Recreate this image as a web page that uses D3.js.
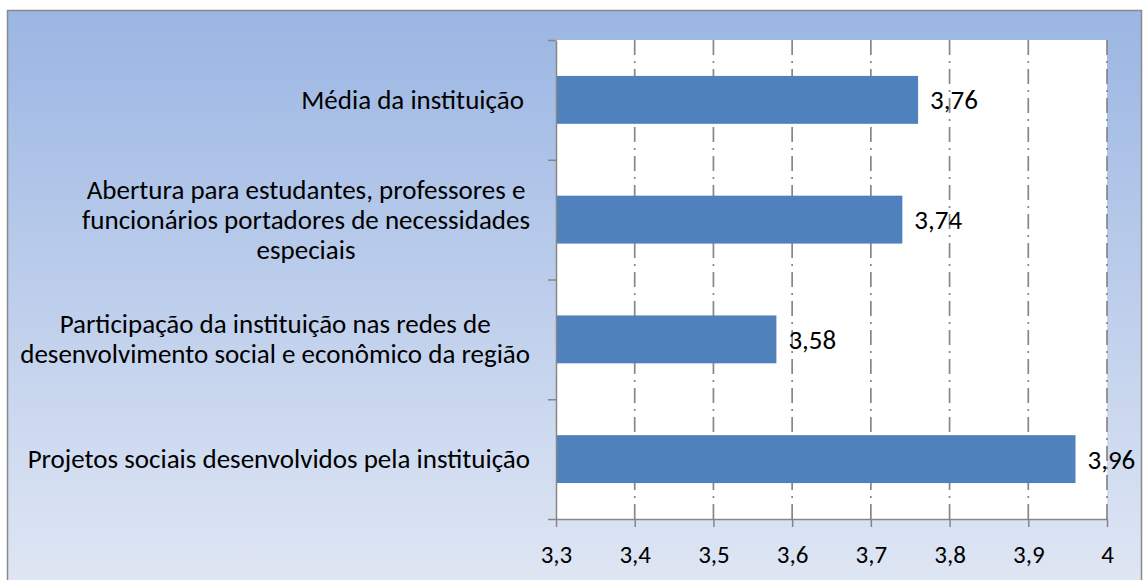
<!DOCTYPE html>
<html>
<head>
<meta charset="utf-8">
<script src="https://cdn.jsdelivr.net/npm/d3@7"></script>
<style>
    body { margin: 0; background: #fff; }
    text { font-family: Carlito, Calibri, Lato, sans-serif; fill: #000; white-space: pre; }
    .axis path, .axis line { stroke: #868686; stroke-width: 1.5; }
    .grid line { stroke: #878787; stroke-width: 1.7; stroke-dasharray: 15,6,2,6; }
</style>
</head>
<body>
<div id="vis"></div>
<script>
// Data
var categories = [
    ["Média da instituição "],
    ["Abertura para estudantes, professores e", "funcionários portadores de necessidades", "especiais"],
    ["Participação da instituição nas redes de", "desenvolvimento social e econômico da região"],
    ["Projetos sociais desenvolvidos pela instituição"]
];
var values = [3.76, 3.74, 3.58, 3.96];
var xTicks = [3.3, 3.4, 3.5, 3.6, 3.7, 3.8, 3.9, 4.0];

(function() {
    var width = 1143,
        height = 580,
        margin = { top: 40, right: 36, bottom: 61, left: 556 };

    var fmt = function(v) { return String(+v.toFixed(2)).replace(".", ","); };

    var svg = d3.select("#vis").append("svg")
        .attr("width", width)
        .attr("height", height);

    // Background gradient of the chart area
    var grad = svg.append("defs").append("linearGradient")
        .attr("id", "bg").attr("x1", 0).attr("y1", 0).attr("x2", 0).attr("y2", 1);
    grad.append("stop").attr("offset", "0%").attr("stop-color", "#9bb6e3");
    grad.append("stop").attr("offset", "100%").attr("stop-color", "#e0e7f4");

    svg.append("rect")
        .attr("x", 7.5).attr("y", 10.5)
        .attr("width", 1134).attr("height", 580)
        .attr("fill", "url(#bg)")
        .attr("stroke", "#898989")
        .attr("stroke-width", 1.5);

    var x = d3.scaleLinear()
        .domain([3.3, 4])
        .range([margin.left, width - margin.right]);

    var y = d3.scaleBand()
        .domain(d3.range(categories.length))
        .range([margin.top, height - margin.bottom])
        .paddingInner(0.6)
        .paddingOuter(0.3);

    // White plot area
    svg.append("rect")
        .attr("x", x(3.3)).attr("y", margin.top)
        .attr("width", x(4) - x(3.3))
        .attr("height", height - margin.bottom - margin.top)
        .attr("fill", "#fff");

    // Vertical dash-dot gridlines
    svg.append("g")
        .attr("class", "grid")
        .selectAll("line")
        .data(xTicks.slice(1))
        .enter().append("line")
        .attr("x1", function(d) { return x(d); })
        .attr("x2", function(d) { return x(d); })
        .attr("y1", margin.top)
        .attr("y2", height - margin.bottom);

    // Bars
    svg.append("g")
        .selectAll("rect")
        .data(values)
        .enter().append("rect")
        .attr("x", x(3.3))
        .attr("y", function(d, i) { return y(i); })
        .attr("width", function(d) { return x(d) - x(3.3); })
        .attr("height", y.bandwidth())
        .attr("fill", "#4f81bd");

    // Value labels
    svg.append("g")
        .selectAll("text")
        .data(values)
        .enter().append("text")
        .attr("x", function(d) { return x(d) + 12; })
        .attr("y", function(d, i) { return y(i) + y.bandwidth() / 2; })
        .attr("dy", "0.35em")
        .style("font-size", "27px")
        .text(fmt);

    // Bottom axis
    svg.append("g")
        .attr("class", "axis")
        .attr("transform", "translate(0," + (height - margin.bottom) + ")")
        .call(d3.axisBottom(x).tickValues(xTicks).tickFormat(fmt).tickSize(8).tickSizeOuter(0))
        .call(function(g) {
            g.selectAll("text").attr("dy", null).attr("y", 44).style("font-size", "25px").attr("fill", "#000");
        });

    // Left axis: line with ticks on category boundaries
    var yEdge = d3.scaleLinear()
        .domain([0, categories.length])
        .range([margin.top, height - margin.bottom]);
    svg.append("g")
        .attr("class", "axis")
        .attr("transform", "translate(" + x(3.3) + ",0)")
        .call(d3.axisLeft(yEdge).ticks(categories.length).tickFormat("").tickSize(8).tickSizeOuter(0));

    // Category labels, multi-line, centred block ending near the axis
    var lineH = 30;
    var labels = svg.append("g")
        .selectAll("text")
        .data(categories)
        .enter().append("text")
        .attr("text-anchor", "middle")
        .style("font-size", "27px")
        .attr("transform", function(d, i) {
            return "translate(0," + (y(i) + y.bandwidth() / 2) + ")";
        });
    labels.each(function(lines) {
        var t = d3.select(this);
        t.selectAll("tspan")
            .data(lines)
            .enter().append("tspan")
            .attr("x", 0)
            .attr("y", function(d, j) { return (j - (lines.length - 1) / 2) * lineH; })
            .attr("dy", "0.33em")
            .text(function(d) { return d; });
        // right-align the block at x = 530
        var w = this.getBBox().width;
        t.attr("transform", t.attr("transform").replace("translate(0", "translate(" + (530 - w / 2)));
    });
})();
</script>
</body>
</html>
